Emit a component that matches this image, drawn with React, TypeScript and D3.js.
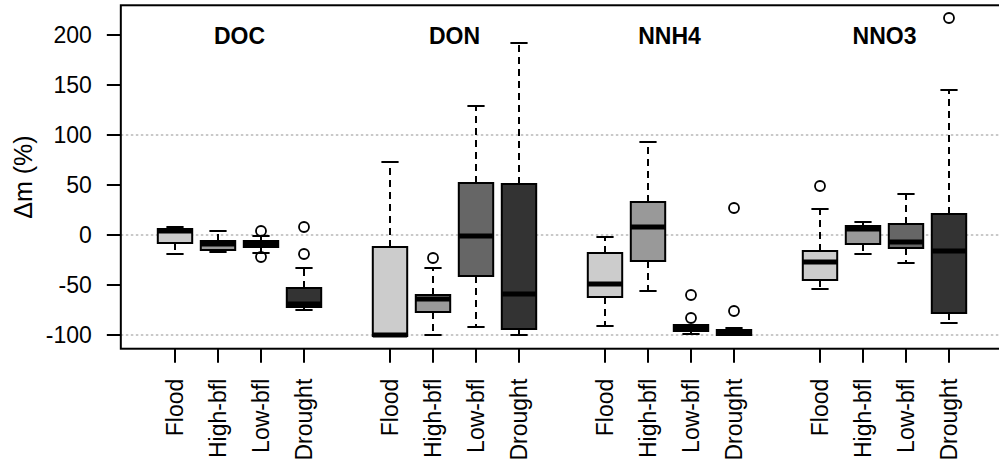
import React from "react";
import * as d3 from "d3";

// Flow-condition categories (x tick labels within each group)
const conditions = ["Flood", "High-bfl", "Low-bfl", "Drought"];
const conditionFills = ["#cccccc", "#999999", "#666666", "#333333"];

// Variables (group titles)
const variables = ["DOC", "DON", "NNH4", "NNO3"];

// Box statistics per variable, one entry per condition: [lower whisker, Q1, median, Q3, upper whisker]
const docStats = [
  [-19, -8, 4, 6, 8],
  [-17, -15, -9, -6, 4],
  [-18, -12, -9, -6, -1],
  [-75, -72, -69, -53, -33],
];
const donStats = [
  [-101, -101, -100, -12, 73],
  [-100, -77, -64, -60, -33],
  [-92, -41, -1, 52, 129],
  [-100, -94, -59, 51, 192],
];
const nnh4Stats = [
  [-91, -62, -49, -18, -2],
  [-56, -26, 8, 33, 93],
  [-99, -96, -93, -90, -90],
  [-100, -100, -98, -95, -93],
];
const nno3Stats = [
  [-54, -45, -27, -16, 26],
  [-19, -9, 6, 9, 13],
  [-28, -13, -7, 11, 41],
  [-88, -78, -16, 21, 145],
];

// Outlying observations per variable and condition
const docOutliers = [[], [], [4, -22], [8, -19]];
const donOutliers = [[], [-23], [], []];
const nnh4Outliers = [[], [], [-60, -83], [27, -76]];
const nno3Outliers = [[49], [], [], [217]];

const yTicks = [-100, -50, 0, 50, 100, 150, 200];
const gridValues = [-100, 0, 100];

const statsByVariable = [docStats, donStats, nnh4Stats, nno3Stats];
const outliersByVariable = [docOutliers, donOutliers, nnh4Outliers, nno3Outliers];

const WIDTH = 999;
const HEIGHT = 464;
const FONT = "'Liberation Sans', Arial, Helvetica, sans-serif";

export default function App() {
  // Box positions 1-4, 6-9, 11-14, 16-19
  const positions = variables.flatMap((_, g) => conditions.map((_, i) => g * 5 + i + 1));
  const x = d3.scaleLinear().domain([1, 19]).range([175, 949]);
  const y = d3.scaleLinear().domain([-100, 200]).range([335, 35]);

  const allValues = statsByVariable.flat().flat().concat(outliersByVariable.flat().flat() as number[]);
  const dataMin = d3.min(allValues) as number;
  const dataMax = d3.max(allValues) as number;
  const yPad = (dataMax - dataMin) * 0.04;
  const xPad = (19 - 1 + 1) * 0.04;

  const left = x(0.5 - xPad);
  const right = x(19.5 + xPad);
  const top = y(dataMax + yPad);
  const bottom = y(dataMin - yPad);

  const unit = x(2) - x(1);
  const boxW = unit * 0.8;
  const capW = boxW * 0.5;

  return (
    <svg
      width={WIDTH}
      height={HEIGHT}
      style={{ position: "absolute", left: 0, top: 0, background: "#fff" }}
      fontFamily={FONT}
    >
      <rect x={0} y={0} width={WIDTH} height={HEIGHT} fill="#fff" />
      {/* dotted reference lines */}
      {gridValues.map((v) => (
        <line
          key={"g" + v}
          x1={left}
          x2={right}
          y1={y(v)}
          y2={y(v)}
          stroke="#b8b8b8"
          strokeWidth={1.5}
          strokeDasharray="2.5 2.5"
        />
      ))}

      {/* boxes */}
      {variables.map((v, g) =>
        conditions.map((c, i) => {
          const [lo, q1, med, q3, hi] = statsByVariable[g][i];
          const cx = x(positions[g * 4 + i]);
          const outs = outliersByVariable[g][i] as number[];
          return (
            <g key={v + c}>
              {hi > q3 && (
                <line x1={cx} x2={cx} y1={y(q3)} y2={y(hi)} stroke="#000" strokeWidth={2} strokeDasharray="7 5" />
              )}
              {lo < q1 && (
                <line x1={cx} x2={cx} y1={y(q1)} y2={y(lo)} stroke="#000" strokeWidth={2} strokeDasharray="7 5" />
              )}
              <line x1={cx - capW / 2} x2={cx + capW / 2} y1={y(hi)} y2={y(hi)} stroke="#000" strokeWidth={2} />
              <line x1={cx - capW / 2} x2={cx + capW / 2} y1={y(lo)} y2={y(lo)} stroke="#000" strokeWidth={2} />
              <rect
                x={cx - boxW / 2}
                y={y(q3)}
                width={boxW}
                height={Math.max(y(q1) - y(q3), 0.5)}
                fill={conditionFills[i]}
                stroke="#000"
                strokeWidth={2}
              />
              <line x1={cx - boxW / 2} x2={cx + boxW / 2} y1={y(med)} y2={y(med)} stroke="#000" strokeWidth={5} />
              {outs.map((o, k) => (
                <circle key={k} cx={cx} cy={y(o)} r={5} fill="none" stroke="#000" strokeWidth={1.8} />
              ))}
            </g>
          );
        })
      )}

      {/* group titles */}
      {variables.map((v, g) => (
        <text
          key={"t" + v}
          x={x(g * 5 + 2.5)}
          y={43.5}
          textAnchor="middle"
          fontWeight="bold"
          fontSize={23}
          fill="#000"
        >
          {v}
        </text>
      ))}

      {/* frame */}
      <rect x={left} y={top} width={right - left} height={bottom - top} fill="none" stroke="#000" strokeWidth={2} />

      {/* y axis */}
      {yTicks.map((t) => (
        <g key={"y" + t}>
          <line x1={left - 14} x2={left} y1={y(t)} y2={y(t)} stroke="#000" strokeWidth={2} />
          <text x={left - 29} y={y(t)} dy="0.36em" textAnchor="end" fontSize={23} fill="#000">
            {t}
          </text>
        </g>
      ))}
      <text
        transform={`translate(${23},${(top + bottom) / 2}) rotate(-90)`}
        textAnchor="middle"
        dy="0.35em"
        fontSize={25}
        fill="#000"
      >
        Δm (%)
      </text>

      {/* x axis */}
      {positions.map((p, k) => {
        const cx = x(p);
        return (
          <g key={"x" + k}>
            <line x1={cx} x2={cx} y1={bottom} y2={bottom + 14} stroke="#000" strokeWidth={2} />
            <text
              transform={`translate(${cx},${bottom + 30}) rotate(-90)`}
              textAnchor="end"
              dy="0.36em"
              fontSize={23}
              fill="#000"
            >
              {conditions[k % 4]}
            </text>
          </g>
        );
      })}
    </svg>
  );
}
